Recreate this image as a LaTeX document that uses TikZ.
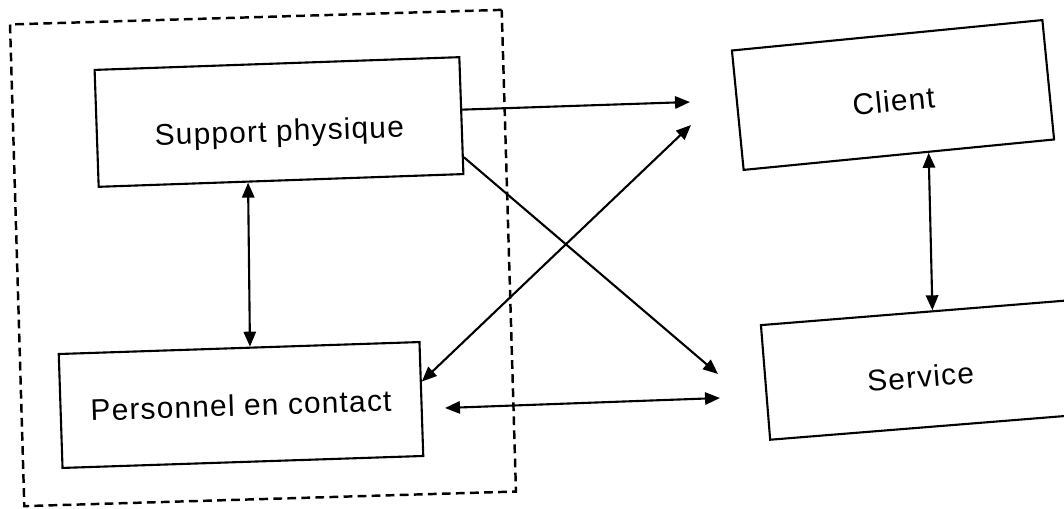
\documentclass[tikz,border=0pt]{standalone}
\usepackage{fontspec}
\setmainfont{Liberation Sans}[LetterSpace=4]
\usetikzlibrary{arrows.meta,calc}
\begin{document}
\begin{tikzpicture}[x=0.02cm,y=-0.02cm,
  box/.style={draw,line width=1.2pt,inner sep=0pt,text depth=0pt,font=\fontsize{17}{20}\selectfont},
  group/.style={draw,line width=1.4pt,dash pattern=on 5pt off 3pt,inner sep=0pt},
  link/.style={line width=1.2pt,-{Triangle[length=8.5pt,width=7pt]}},
  dlink/.style={line width=1.2pt,{Triangle[length=8.5pt,width=7pt]}-{Triangle[length=8.5pt,width=7pt]}}]
\fill[white] (0,0) rectangle (1064,509);
\useasboundingbox (0,0) rectangle (1064,509);
\node[group,rotate=1.7,minimum width=9.84cm,minimum height=9.64cm] (grp) at (263,258) {};
\node[box,rotate=2,minimum width=7.3cm,minimum height=2.34cm,text height=22pt] (sp) at (279,122) {Support physique};
\node[box,rotate=1.9,minimum width=7.22cm,minimum height=2.28cm,text height=12.5pt] (pc) at (241,405) {Personnel en contact};
\node[box,rotate=5.6,minimum width=6.24cm,minimum height=2.4cm,text height=19pt] (cl) at (893,95) {Client};
\node[box,rotate=4.6,minimum width=6.2cm,minimum height=2.3cm,text height=20pt] (sv) at (920,370) {Service};
\coordinate (c1) at (690,102);
\coordinate (c2) at (691,125);
\coordinate (c3) at (718,374);
\coordinate (c4) at (445,408);
\coordinate (c5) at (720,398);
\draw[link] ($(sp.north east)!0.45!(sp.south east)$) -- (c1);
\draw[link] ($(sp.north east)!0.85!(sp.south east)$) -- (c3);
\draw[dlink] ($(pc.north east)!0.35!(pc.south east)$) -- (c2);
\draw[dlink] (c4) -- (c5);
\draw[dlink] ($(sp.south west)!0.41!(sp.south east)$) -- ($(pc.north west)!0.53!(pc.north east)$);
\draw[dlink] ($(cl.south west)!0.595!(cl.south east)$) -- ($(sv.north west)!0.555!(sv.north east)$);
\end{tikzpicture}
\end{document}
